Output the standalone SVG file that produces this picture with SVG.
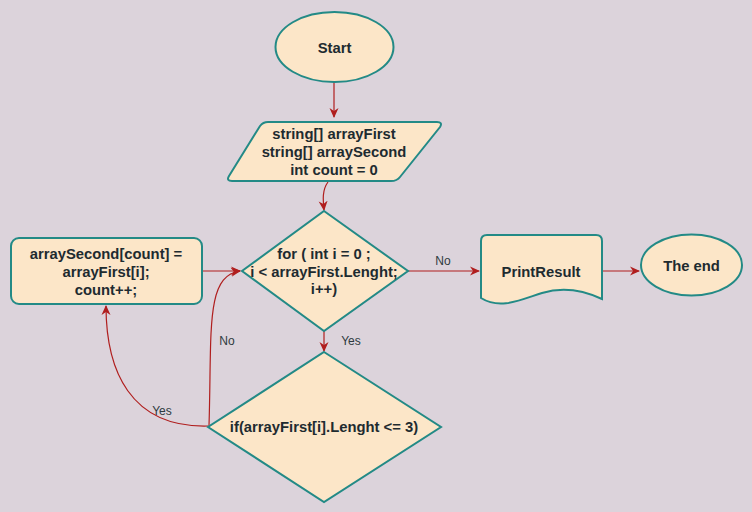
<svg xmlns="http://www.w3.org/2000/svg" width="752" height="512" viewBox="0 0 752 512">
<defs>
<marker id="ah" viewBox="0 0 10 10" refX="9" refY="5" markerWidth="10" markerHeight="10" markerUnits="userSpaceOnUse" orient="auto">
<path d="M0,0.5 L10,5 L0,9.5 L3,5 Z" fill="#B01E1E"/>
</marker>
<style>
.n{fill:#FCE6C8;stroke:#238A86;stroke-width:2}
.t{font-family:"Liberation Sans",Arial,sans-serif;font-size:14.8px;font-weight:bold;fill:#1E2B30;text-anchor:middle}
.e{fill:none;stroke:#B01E1E;stroke-width:1.2;marker-end:url(#ah)}
.l{font-family:"Liberation Sans",Arial,sans-serif;font-size:12px;fill:#2E3A40;text-anchor:middle}
</style>
</defs>
<rect width="752" height="512" fill="#DCD3DB"/>
<g id="connectors">
<path class="e" d="M334,82 L334,117"/>
<path class="e" d="M328,182 C322,190 323,200 324,210"/>
<path class="e" d="M408,271 L479,271"/>
<path class="e" d="M602,271 L639,271"/>
<path class="e" d="M202,271 L240,271"/>
<path class="e" d="M324,331 L324,351"/>
<path class="e" d="M209,426 C212,330 205,276 240,271"/>
<path class="e" d="M208,426 C130,428 106,370 106,306"/>
<text class="l" x="443" y="265">No</text>
<text class="l" x="351" y="345">Yes</text>
<text class="l" x="227" y="345">No</text>
<text class="l" x="162" y="415">Yes</text>
</g>
<g id="start">
<ellipse class="n" cx="334.5" cy="47" rx="59" ry="35"/>
<text class="t" x="334.5" y="52.5">Start</text>
</g>
<g id="init">
<path class="n" d="M268,122 L437,122 Q443,122 440,127 L400,177 Q397,181 391,181 L232,181 Q226,181 229,176 L260,126 Q263,122 268,122 Z"/>
<text class="t" x="334" y="139">string[] arrayFirst</text>
<text class="t" x="334" y="157">string[] arraySecond</text>
<text class="t" x="334" y="175">int count = 0</text>
</g>
<g id="loop">
<path class="n" d="M324,211 L408,271 L324,331 L242,271 Z"/>
<text class="t" x="324" y="259">for ( int i = 0 ;</text>
<text class="t" x="324" y="277">i &lt; arrayFirst.Lenght;</text>
<text class="t" x="324" y="294">i++)</text>
</g>
<g id="assign">
<rect class="n" x="11" y="238" width="191" height="66" rx="8"/>
<text class="t" x="106" y="259">arraySecond[count] =</text>
<text class="t" x="106" y="277">arrayFirst[i];</text>
<text class="t" x="106" y="295">count++;</text>
</g>
<g id="cond">
<path class="n" d="M324,352 L441,427 L324,502 L208,427 Z"/>
<text class="t" x="324" y="432">if(arrayFirst[i].Lenght &lt;= 3)</text>
</g>
<g id="print">
<path class="n" d="M487,235 L596,235 Q602,235 602,241 L602,299 C585,291 565,286 542,293 C520,300 500,310 481,298 L481,241 Q481,235 487,235 Z"/>
<text class="t" x="541" y="277">PrintResult</text>
</g>
<g id="end">
<ellipse class="n" cx="691.5" cy="265" rx="50.5" ry="30.5"/>
<text class="t" x="691.5" y="270.5">The end</text>
</g>
</svg>
